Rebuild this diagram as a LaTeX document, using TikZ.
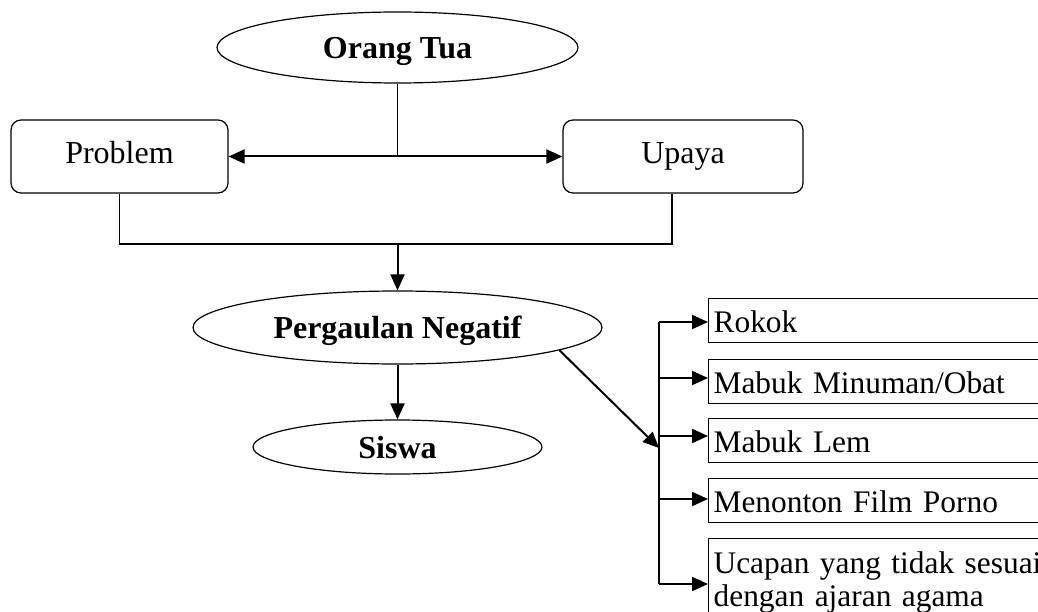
\documentclass[tikz,border=0pt]{standalone}
\usepackage{fontspec}
\setmainfont{Liberation Serif}
\usetikzlibrary{shapes.geometric,arrows.meta,calc}
\begin{document}
\begin{tikzpicture}[x=1pt,y=-1pt,
  every node/.style={font=\fontsize{32}{32.5}\selectfont},
  oval/.style={ellipse,draw,line width=1.2pt,inner sep=0pt,font=\fontsize{32}{32.5}\selectfont\bfseries,text height=22pt,text depth=0pt},
  rbox/.style={draw,rounded corners=10pt,line width=1.2pt,inner sep=0pt,text height=22pt,text depth=8pt},
  ibox/.style={draw,line width=1.2pt,anchor=north west,minimum height=44pt,text width=420pt,align=left,inner xsep=5pt,inner ysep=0pt,text height=26pt,text depth=3pt,font=\fontsize{31.4}{32.5}\selectfont},
  conn/.style={line width=1.2pt},
  arr/.style={line width=2pt,-{Triangle[length=16pt,width=14pt]}},
  dbl/.style={line width=2pt,{Triangle[length=16pt,width=14pt]}-{Triangle[length=16pt,width=14pt]}},
]
\useasboundingbox (0,0) rectangle (1038,612);
\clip (0,0) rectangle (1038,612);

\node[oval,minimum width=361pt,minimum height=71pt] (ortu) at (397.5,47.5) {Orang Tua};
\node[rbox,minimum width=217pt,minimum height=73pt] (prob) at (119.5,156.5) {Problem};
\node[rbox,minimum width=240pt,minimum height=73pt] (upaya) at (683,156.5) {Upaya};
\node[oval,minimum width=409pt,minimum height=73pt] (perg) at (397.5,327.5) {Pergaulan Negatif};
\node[oval,minimum width=289pt,minimum height=54pt] (siswa) at (397.5,447) {Siswa};

\node[ibox] (b1) at (708,298) {Rokok};
\node[ibox] (b2) at (708,359) {Mabuk Minuman/Obat};
\node[ibox] (b3) at (708,418) {Mabuk Lem};
\node[ibox] (b4) at (708,478) {Menonton Film Porno};
\node[draw,line width=1.2pt,anchor=north west,text width=420pt,align=left,inner xsep=5pt,inner ysep=9pt,text height=26pt,font=\fontsize{31.4}{32.5}\selectfont] (b5) at (708,538) {Ucapan yang tidak sesuai\\dengan ajaran agama};

% top connectors
\draw[conn] (ortu.south) -- (ortu.south |- prob.east);
\draw[dbl] (prob.east) -- (upaya.west);

\coordinate (join) at (397.5,244);
\coordinate (uc) at ([xshift=-11pt]upaya.south);
\draw[conn] (prob.south) -- (prob.south |- join) -- (uc |- join) -- (uc);
\draw[arr] (join) -- (perg.north);
\draw[arr] (perg.south) -- (siswa.north);

% bracket
\coordinate (k1) at (659,322);
\coordinate (k2) at (659,378);
\coordinate (k3) at (659,436);
\coordinate (k4) at (659,499);
\coordinate (k5) at (659,584);
\coordinate (kd) at (659,448);
\draw[line width=2pt] (k1) -- (k5);
\draw[arr] (perg.-8) -- (kd);
\draw[arr] (k1) -- (b1.west |- k1);
\draw[arr] (k2) -- (b2.west |- k2);
\draw[arr] (k3) -- (b3.west |- k3);
\draw[arr] (k4) -- (b4.west |- k4);
\draw[arr] (k5) -- (b5.west |- k5);
\end{tikzpicture}
\end{document}
